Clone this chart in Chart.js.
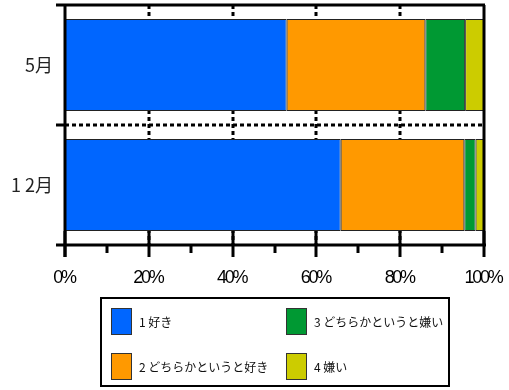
<!DOCTYPE html>
<html>
<head>
<meta charset="utf-8">
<script src="https://cdn.jsdelivr.net/npm/chart.js@4"></script>
<style>
    html, body { margin: 0; padding: 0; background: #fff; }
    #wrap { width: 509px; height: 390px; }
</style>
</head>
<body>
<div id="wrap"><canvas id="chart" width="509" height="390"></canvas></div>
<script>
// ---- data (percent of answers) ----
const months = ["5月", "1 2月"];
const answerLabels = ["1 好き", "2 どちらかというと好き", "3 どちらかというと嫌い", "4 嫌い"];
const like = [52.9, 65.8];
const somewhatLike = [33.1, 29.5];
const somewhatDislike = [9.5, 2.7];
const dislike = [4.5, 2.0];
const answerColors = ["#0066FF", "#FF9900", "#009933", "#CCCC00"];
const pctStep = 20;

function line(ctx, x1, y1, x2, y2) {
    ctx.beginPath();
    ctx.moveTo(x1, y1);
    ctx.lineTo(x2, y2);
    ctx.stroke();
}

// dashed grid behind bars, solid frame + ticks on top
const framePlugin = {
    id: "frame",
    beforeDatasetsDraw(chart) {
        const { ctx, chartArea: a, scales: { x, y } } = chart;
        ctx.save();
        ctx.strokeStyle = "#000";
        ctx.lineWidth = 3;
        ctx.setLineDash([4, 3]);
        x.ticks.forEach(t => {
            if (t.value > x.min && t.value < x.max) {
                const px = Math.round(x.getPixelForValue(t.value));
                line(ctx, px, a.top, px, a.bottom);
            }
        });
        const mid = Math.round((y.getPixelForValue(0) + y.getPixelForValue(1)) / 2);
        line(ctx, a.left, mid, a.right, mid);
        ctx.restore();
    },
    afterDatasetsDraw(chart) {
        const { ctx, chartArea: a, scales: { x, y } } = chart;
        const mid = Math.round((y.getPixelForValue(0) + y.getPixelForValue(1)) / 2);
        ctx.save();
        ctx.strokeStyle = "#000";
        ctx.lineWidth = 3;
        line(ctx, a.left - 9, a.top, a.right + 1, a.top);
        line(ctx, a.right, a.top, a.right, a.bottom);
        line(ctx, a.left, a.top - 1, a.left, a.bottom + 12);
        line(ctx, a.left - 9, a.bottom, a.right + 2, a.bottom);
        line(ctx, a.left - 9, mid, a.left, mid);
        const px = x.ticks.map(t => x.getPixelForValue(t.value));
        px.forEach(p => line(ctx, Math.round(p), a.bottom - 14, Math.round(p), a.bottom + 12));
        for (let i = 0; i < px.length - 1; i++) {
            const m = Math.round((px[i] + px[i + 1]) / 2);
            line(ctx, m, a.bottom, m, a.bottom + 8);
        }
        // tick labels, drawn tight like the original
        ctx.fillStyle = "#000";
        ctx.font = "18px 'Liberation Sans', Arial, sans-serif";
        ctx.letterSpacing = "-2.3px";
        ctx.textAlign = "center";
        ctx.textBaseline = "alphabetic";
        x.ticks.forEach((t, i) => {
            ctx.fillText(t.label || (t.value + "%"), px[i] - 1, a.bottom + 38);
        });
        ctx.restore();
    }
};

// bordered 2x2 legend under the axis
const boxLegendPlugin = {
    id: "boxLegend",
    afterDraw(chart) {
        const ctx = chart.ctx;
        const box = { x: 101, y: 298, w: 348, h: 88 };
        const cols = [111, 286];
        const rows = [308, 353];
        ctx.save();
        ctx.strokeStyle = "#000";
        ctx.lineWidth = 2;
        ctx.strokeRect(box.x, box.y, box.w, box.h);
        ctx.font = "12px 'Noto Sans CJK JP', sans-serif";
        ctx.textBaseline = "middle";
        chart.data.datasets.forEach((ds, i) => {
            const cx = cols[Math.floor(i / 2)];
            const cy = rows[i % 2];
            ctx.fillStyle = ds.backgroundColor;
            ctx.fillRect(cx, cy, 20, 26);
            ctx.lineWidth = 1;
            ctx.strokeStyle = "#333";
            ctx.strokeRect(cx + 0.5, cy + 0.5, 20, 26);
            ctx.fillStyle = "#111";
            ctx.fillText(ds.label, cx + 28, cy + 14);
        });
        ctx.restore();
    }
};

const seriesValues = [like, somewhatLike, somewhatDislike, dislike];

function noEdgePadding(s) {
    s.paddingLeft = 0;
    s.paddingRight = 0;
    s.paddingTop = 0;
    s.paddingBottom = 0;
}

new Chart(document.getElementById("chart"), {
    type: "bar",
    data: {
        labels: months,
        datasets: seriesValues.map((vals, i) => ({
            label: answerLabels[i],
            data: vals,
            backgroundColor: answerColors[i],
            borderColor: "#222",
            borderWidth: 1,
            borderSkipped: false,
            barPercentage: 0.767,
            categoryPercentage: 1,
        })),
    },
    options: {
        indexAxis: "y",
        responsive: false,
        animation: false,
        devicePixelRatio: 1,
        layout: { padding: { left: 0, right: 25, top: 5, bottom: 100 } },
        plugins: {
            legend: { display: false },
            tooltip: { enabled: false },
        },
        scales: {
            x: {
                stacked: true,
                min: 0,
                max: 100,
                grid: { display: false, drawTicks: false },
                border: { display: false },
                ticks: {
                    display: false,
                    stepSize: pctStep,
                    callback: v => v + "%",
                },
                afterFit: s => { noEdgePadding(s); s.height = 45; },
            },
            y: {
                stacked: true,
                grid: { display: false, drawTicks: false },
                border: { display: false },
                ticks: {
                    padding: 12,
                    color: "#222",
                    font: { family: "'Noto Sans CJK JP', sans-serif", size: 18 },
                },
                afterFit: s => { noEdgePadding(s); s.width = 65; },
            },
        },
    },
    plugins: [framePlugin, boxLegendPlugin],
});
</script>
</body>
</html>
